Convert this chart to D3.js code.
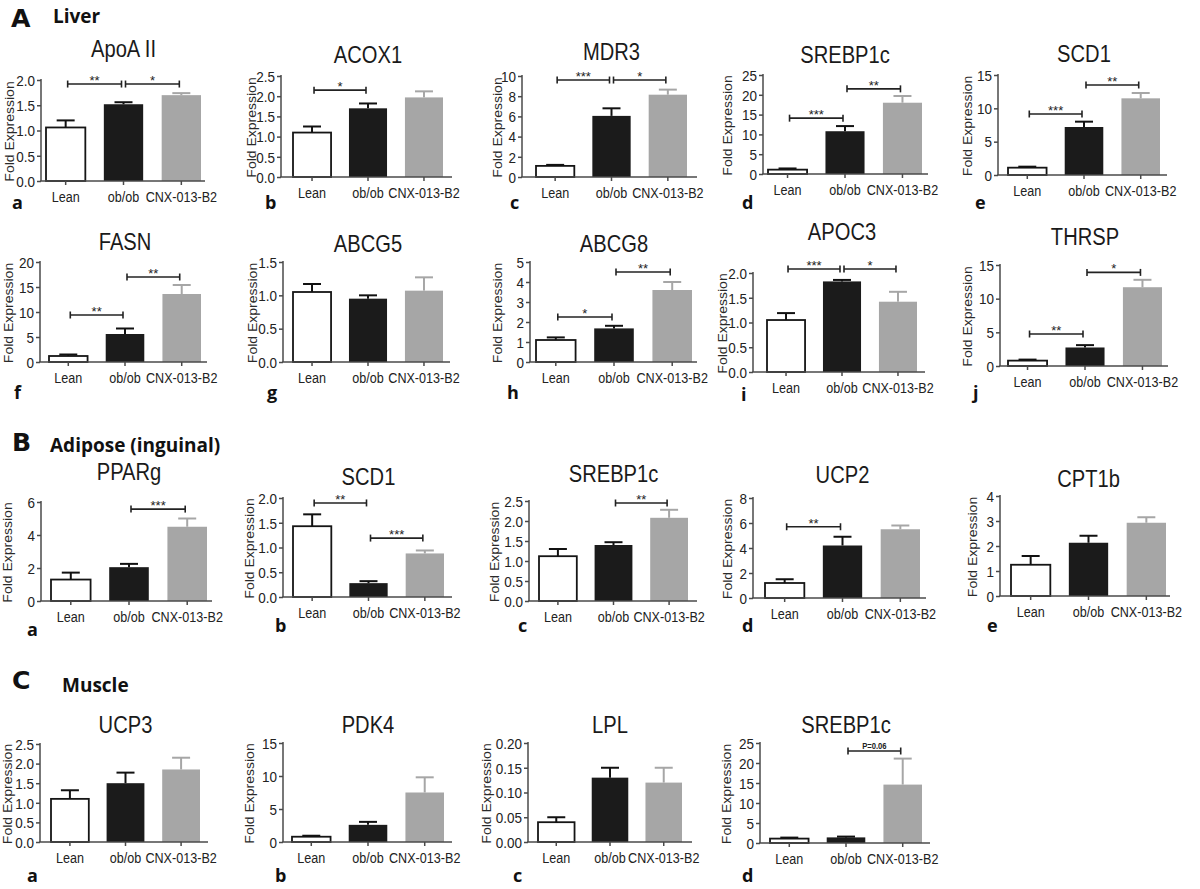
<!DOCTYPE html>
<html><head><meta charset="utf-8">
<script src="https://cdn.jsdelivr.net/npm/d3@7"></script>
<style>body{margin:0;background:#fff}svg{display:block}</style>
</head><body>
<svg id="c" width="1200" height="889"></svg>
<script>
// ---------- DATA ----------
const categories = ["Lean", "ob/ob", "CNX-013-B2"];
const sectionLetters = ["A", "B", "C"];
const sectionNames = ["Liver", "Adipose (inguinal)", "Muscle"];
const genes = ["ApoA II","ACOX1","MDR3","SREBP1c","SCD1",
               "FASN","ABCG5","ABCG8","APOC3","THRSP",
               "PPARg","SCD1","SREBP1c","UCP2","CPT1b",
               "UCP3","PDK4","LPL","SREBP1c"];
const panelLetters = ["a","b","c","d","e","f","g","h","i","j","a","b","c","d","e","a","b","c","d"];
const means = [
  [1.06, 1.52, 1.70], [1.10, 1.70, 1.97], [1.10, 6.05, 8.15], [1.10, 10.8, 18.0], [1.10, 7.20, 11.5],
  [1.20, 5.60, 13.6], [1.05, 0.95, 1.07], [1.10, 1.68, 3.60], [1.05, 1.83, 1.42], [0.80, 2.75, 11.7],
  [1.30, 2.05, 4.50], [1.43, 0.28, 0.88], [1.12, 1.40, 2.08], [1.20, 4.20, 5.50], [1.25, 2.13, 2.93],
  [1.10, 1.50, 1.85], [0.80, 2.60, 7.50], [0.04, 0.13, 0.12], [1.10, 1.40, 14.6]
];
const sems = [
  [0.14, 0.04, 0.04], [0.15, 0.12, 0.15], [0.10, 0.75, 0.50], [0.30, 1.30, 1.70], [0.15, 0.80, 0.80],
  [0.30, 1.10, 1.80], [0.12, 0.05, 0.20], [0.13, 0.13, 0.40], [0.14, 0.03, 0.20], [0.15, 0.35, 1.10],
  [0.42, 0.20, 0.50], [0.24, 0.04, 0.06], [0.18, 0.07, 0.20], [0.30, 0.70, 0.30], [0.35, 0.28, 0.22],
  [0.22, 0.27, 0.30], [0.15, 0.45, 2.30], [0.01, 0.02, 0.03], [0.25, 0.20, 6.50]
];
const yTickValues = [
  [0,0.5,1.0,1.5,2.0], [0,0.5,1.0,1.5,2.0,2.5], [0,2,4,6,8,10], [0,5,10,15,20,25], [0,5,10,15],
  [0,5,10,15,20], [0,0.5,1.0,1.5], [0,1,2,3,4,5], [0,0.5,1.0,1.5,2.0], [0,5,10,15],
  [0,2,4,6], [0,0.5,1.0,1.5,2.0], [0,0.5,1.0,1.5,2.0,2.5], [0,2,4,6,8], [0,1,2,3,4],
  [0,0.5,1.0,1.5,2.0,2.5], [0,5,10,15], [0,0.05,0.10,0.15,0.20], [0,5,10,15,20,25]
];
const tickDecimals = [1,1,0,0,0, 0,1,0,1,0, 0,1,1,0,0, 1,0,2,0];
// [from index, to index, bracket height (data units), label]
const significance = [
  [[0,1,1.92,"**"],[1,2,1.92,"*"]],
  [[0,1,2.15,"*"]],
  [[0,1,9.6,"***"],[1,2,9.6,"*"]],
  [[0,1,14.1,"***"],[1,2,21.5,"**"]],
  [[0,1,9.15,"***"],[1,2,13.5,"**"]],
  [[0,1,9.4,"**"],[1,2,17.0,"**"]],
  [],
  [[0,1,2.25,"*"],[1,2,4.5,"**"]],
  [[0,1,2.08,"***"],[1,2,2.08,"*"]],
  [[0,1,4.75,"**"],[1,2,13.9,"*"]],
  [[1,2,5.57,"***"]],
  [[0,1,1.90,"**"],[1,2,1.19,"***"]],
  [[1,2,2.45,"**"]],
  [[0,1,5.7,"**"]],
  [],
  [], [], [],
  [[1,2,23,"P=0.06"]]
];

// ---------- LAYOUT (pixels) ----------
const layout = [
  {ax:41, x0:46, x1:201, axEnd:205, yTop:80, yBot:181, tY:57, lx:10, letX:12, letY:209},
  {ax:281, x0:293, x1:443, axEnd:452, yTop:76, yBot:177, tY:63, lx:252, letX:265, letY:209},
  {ax:522, x0:536, x1:687, axEnd:697, yTop:76, yBot:177, tY:60, lx:498, letX:510, letY:209},
  {ax:763, x0:768, x1:922, axEnd:928, yTop:75, yBot:174, tY:63, lx:728, letX:742, letY:209},
  {ax:998, x0:1008, x1:1160, axEnd:1167, yTop:75, yBot:175, tY:62, lx:968, letX:975, letY:209},
  {ax:40, x0:49, x1:201, axEnd:207, yTop:262, yBot:362, tY:250, lx:9, letX:14, letY:399},
  {ax:283, x0:293, x1:443, axEnd:450, yTop:262, yBot:362, tY:252, lx:253, letX:267, letY:399},
  {ax:530, x0:536, x1:692, axEnd:697, yTop:262, yBot:362, tY:252, lx:498, letX:507, letY:399},
  {ax:753, x0:767, x1:917, axEnd:925, yTop:273, yBot:372, tY:240, lx:723, letX:741, letY:401},
  {ax:1000, x0:1008, x1:1162, axEnd:1168, yTop:265, yBot:366, tY:245, lx:968, letX:973, letY:399},
  {ax:41, x0:51, x1:207, axEnd:212, yTop:502, yBot:601, tY:480, lx:8, letX:27, letY:636},
  {ax:283, x0:293, x1:444, axEnd:452, yTop:498, yBot:597, tY:485, lx:250, letX:275, letY:632},
  {ax:529, x0:539, x1:688, axEnd:697, yTop:501, yBot:601, tY:482, lx:495, letX:518, letY:632},
  {ax:753, x0:765, x1:920, axEnd:926, yTop:498, yBot:598, tY:483, lx:728, letX:742, letY:632},
  {ax:1000, x0:1011, x1:1166, axEnd:1170, yTop:496, yBot:596, tY:487, lx:973, letX:987, letY:632},
  {ax:40, x0:51, x1:200, axEnd:208, yTop:744, yBot:842, tY:733, lx:8, letX:27, letY:882},
  {ax:283, x0:292, x1:444, axEnd:452, yTop:743, yBot:842, tY:733, lx:250, letX:275, letY:882},
  {ax:528, x0:538, x1:682, axEnd:692, yTop:743, yBot:842, tY:733, lx:487, letX:513, letY:882},
  {ax:760, x0:770, x1:922, axEnd:930, yTop:743, yBot:843, tY:733, lx:727, letX:742, letY:882}
];
const sectionPos = [
  {lx:11, ly:27, nx:53, ny:23},
  {lx:12, ly:451, nx:50, ny:452},
  {lx:12, ly:689, nx:62, ny:692}
];

const SANS = "'Liberation Sans', Arial, sans-serif";
const BOLD = "'Open Sans', 'Liberation Sans', sans-serif";
const fills = ["#ffffff", "#1b1b1b", "#a6a6a6"];
const errColors = ["#111111", "#111111", "#a6a6a6"];
const AXIS = "#4a4a4a";

const svg = d3.select("#c");
svg.append("rect").attr("width", 1200).attr("height", 889).attr("fill", "#fff");

function txt(parent, x, y, s, o) {
  o = Object.assign({size:14, weight:"normal", anchor:"middle", sx:1, rot:0, family:SANS, fill:"#1a1a1a", baseline:null}, o||{});
  const t = parent.append("text")
    .attr("transform", `translate(${x},${y}) scale(${o.sx},1)` + (o.rot ? ` rotate(${o.rot})` : ""))
    .attr("text-anchor", o.anchor)
    .style("font-family", o.family).style("font-size", o.size + "px").style("font-weight", o.weight)
    .attr("fill", o.fill).text(s);
  if (o.baseline) t.attr("dominant-baseline", o.baseline);
  return t;
}

// section headers
sectionLetters.forEach((L, i) => {
  const p = sectionPos[i];
  txt(svg, p.lx, p.ly, L, {size:24, weight:"bold", anchor:"start", sx:1.05, family:"'DejaVu Sans', sans-serif", fill:"#111"});
  txt(svg, p.nx, p.ny, sectionNames[i], {size:19, weight:"bold", anchor:"start", family:BOLD, fill:"#111"});
});

genes.forEach((gene, k) => {
  const L = layout[k];
  const g = svg.append("g");
  const ticks = yTickValues[k];
  const yMax = ticks[ticks.length - 1];
  const y = d3.scaleLinear().domain([0, yMax]).range([L.yBot, L.yTop]);
  const x = d3.scaleBand().domain(categories).range([L.x0, L.x1]).paddingInner(0.32).paddingOuter(0);
  const bw = x.bandwidth();
  const cx = c => x(c) + bw / 2;

  // bars
  g.selectAll("rect.bar").data(categories).join("rect")
    .attr("x", c => x(c)).attr("y", (c, i) => y(means[k][i]))
    .attr("width", bw).attr("height", (c, i) => L.yBot - y(means[k][i]))
    .attr("fill", (c, i) => fills[i])
    .attr("stroke", (c, i) => i === 0 ? "#151515" : "none")
    .attr("stroke-width", 1.8);

  // error bars (upper only)
  categories.forEach((c, i) => {
    const top = y(means[k][i] + sems[k][i]);
    g.append("line").attr("x1", cx(c)).attr("x2", cx(c)).attr("y1", y(means[k][i])).attr("y2", top)
      .attr("stroke", errColors[i]).attr("stroke-width", 2);
    g.append("line").attr("x1", cx(c) - 9).attr("x2", cx(c) + 9).attr("y1", top).attr("y2", top)
      .attr("stroke", errColors[i]).attr("stroke-width", 2);
  });

  // y axis
  const fmt = d3.format("." + tickDecimals[k] + "f");
  const yAxis = d3.axisLeft(y).tickValues(ticks).tickFormat(fmt).tickSize(4).tickPadding(2);
  const ga = g.append("g").attr("transform", `translate(${L.ax},0)`).call(yAxis);
  ga.select(".domain").remove();
  ga.selectAll(".tick line").attr("stroke", AXIS).attr("stroke-width", 1.5);
  ga.selectAll(".tick text").each(function() {
    const t = d3.select(this);
    const ty = +d3.select(this.parentNode).attr("transform").match(/,([-\d.]+)/)[1];
    t.remove();
    txt(g, L.ax - 6, ty, t.text(), {size:15, anchor:"end", sx:0.9, baseline:"central", fill:"#222"});
  });
  g.append("line").attr("x1", L.ax).attr("x2", L.ax).attr("y1", L.yBot).attr("y2", L.yTop - 1)
    .attr("stroke", AXIS).attr("stroke-width", 1.5);

  // x axis
  const xAxis = d3.axisBottom(x).tickSize(4).tickFormat("");
  const gx = g.append("g").attr("transform", `translate(0,${L.yBot})`).call(xAxis);
  gx.select(".domain").remove();
  gx.selectAll(".tick line").attr("stroke", AXIS).attr("stroke-width", 1.5);
  g.append("line").attr("x1", L.ax - 0.75).attr("x2", L.axEnd).attr("y1", L.yBot).attr("y2", L.yBot)
    .attr("stroke", AXIS).attr("stroke-width", 1.5);
  categories.forEach(c => {
    txt(g, cx(c), L.yBot + 21, c, {size:15, sx:0.84, fill:"#222"});
  });

  // title
  txt(g, (L.x0 + L.x1) / 2, L.tY, gene, {size:24, sx:0.84, fill:"#1a1a1a"});

  // y label
  txt(g, L.lx, (L.yTop + L.yBot) / 2 + 1, "Fold Expression", {size:14, sx:0.85, rot:-90, baseline:"central", fill:"#2a2a2a"});

  // significance brackets
  significance[k].forEach(([a, b, h, lab]) => {
    const xa = cx(categories[a]) + 2, xb = cx(categories[b]) - 2, yy = y(h);
    g.append("line").attr("x1", xa).attr("x2", xb).attr("y1", yy).attr("y2", yy).attr("stroke", "#222").attr("stroke-width", 1.6);
    [xa, xb].forEach(xx => g.append("line").attr("x1", xx).attr("x2", xx).attr("y1", yy - 3.5).attr("y2", yy + 3.5)
      .attr("stroke", "#222").attr("stroke-width", 1.6));
    if (lab.startsWith("P")) {
      txt(g, (xa + xb) / 2, yy - 2, lab, {size:9, weight:"bold", sx:0.85, fill:"#222"});
    } else {
      txt(g, (xa + xb) / 2, yy + 1, lab, {size:13, fill:"#222"});
    }
  });

  // panel letter
  txt(svg, L.letX, L.letY, panelLetters[k], {size:18, weight:"bold", anchor:"start", family:BOLD, fill:"#111"});
});
</script>
</body></html>
